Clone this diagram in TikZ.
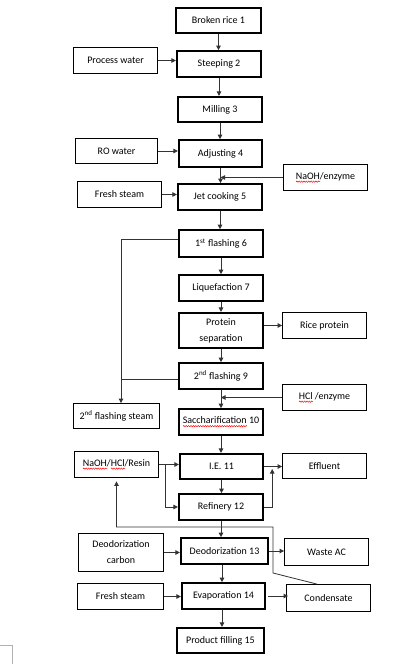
\documentclass[tikz,border=0pt]{standalone}
\usepackage{fontspec}
\setmainfont{Carlito}
\usetikzlibrary{arrows.meta,calc,decorations.pathmorphing}
\newsavebox\wbox
\newcommand\rwave[1]{\sbox\wbox{#1}\rlap{\usebox\wbox}\hbox to\wd\wbox{\raisebox{-2.3pt}{\tikz[x=1pt,y=1pt,baseline=0pt]\draw[red,line width=0.45pt,decorate,decoration={snake,amplitude=0.7pt,segment length=2.4pt}] (0pt,0pt) -- (\the\wd\wbox,0pt);}\hss}}
\begin{document}
\begin{tikzpicture}[x=1pt,y=-1pt,
  every node/.style={font=\fontsize{10}{16}\selectfont, inner sep=0pt, align=center},
  mainbox/.style={draw, line width=2.2pt, minimum width=84pt, minimum height=25.5pt},
  sidebox/.style={draw, line width=0.8pt, minimum width=84pt, minimum height=26pt},
  arr/.style={draw=black!80, line width=0.8pt, -{Triangle[length=4.5pt,width=4.5pt]}},
  ln/.style={draw=black!80, line width=0.8pt}]
\useasboundingbox (0,0) rectangle (409,664);
% main process boxes
\node[mainbox, minimum width=85pt, minimum height=25pt] (b1) at (218.5,20.5) {Broken rice 1};
\node[mainbox] (b2) at (219,64) {Steeping 2};
\node[mainbox, minimum height=25pt] (b3) at (220,109.5) {Milling 3};
\node[mainbox, minimum width=83pt, minimum height=26.5pt] (b4) at (220.5,153.5) {Adjusting 4};
\node[mainbox] (b5) at (220,197) {Jet cooking 5};
\node[mainbox, minimum height=26.5pt] (b6) at (221,243.5) {1\textsuperscript{st} flashing 6};
\node[mainbox] (b7) at (221,288) {Liquefaction 7};
\node[mainbox, minimum height=35pt] (b8) at (221,330.5) {Protein\\separation};
\node[mainbox] (b9) at (221,376) {2\textsuperscript{nd} flashing 9};
\node[mainbox] (b10) at (221,422) {\rwave{Saccharification} 10};
\node[mainbox, minimum width=83pt, minimum height=25pt] (b11) at (221.5,466.5) {I.E. 11};
\node[mainbox] (b12) at (221,507) {Refinery 12};
\node[mainbox, minimum width=87pt] (b13) at (224.5,551) {Deodorization 13};
\node[mainbox, minimum width=83pt] (b14) at (223.5,596) {Evaporation 14};
\node[mainbox, minimum width=87pt, minimum height=25pt] (b15) at (220.5,640.5) {Product filling 15};
% side boxes
\node[sidebox] (pw) at (115.5,60.5) {Process water};
\node[sidebox, minimum width=82pt, minimum height=25pt] (ro) at (116.5,151) {RO water};
\node[sidebox] (naoh) at (325.5,177.5) {\rwave{NaOH}/enzyme};
\node[sidebox] (fs1) at (119.5,194.5) {Fresh steam};
\node[sidebox] (rp) at (324.5,325.5) {Rice protein};
\node[sidebox] (hcl) at (324.5,397.5) {\rwave{HCl} /enzyme};
\node[sidebox, minimum width=86pt, minimum height=25pt] (fst) at (116.5,416) {2\textsuperscript{nd} flashing steam};
\node[sidebox] (res) at (116.5,464.5) {\rwave{NaOH}/\rwave{HCl}/Resin};
\node[sidebox, minimum height=25pt] (eff) at (324.5,466) {Effluent};
\node[sidebox, minimum width=85pt, minimum height=38pt] (dc) at (121,552.5) {Deodorization\\carbon};
\node[sidebox, minimum height=27pt] (wac) at (326.5,552) {Waste AC};
\node[sidebox, minimum width=86pt] (fs2) at (120.5,596.5) {Fresh steam};
\node[sidebox, minimum height=27pt] (cond) at (328.5,598) {Condensate};
% main flow
\draw[arr] (b1.south) -- (b1.south |- b2.north);
\draw[arr] (b2.south) -- (b2.south |- b3.north);
\draw[arr] (b3.south) -- (b3.south |- b4.north);
\draw[arr] (b4.south) -- (b4.south |- b5.north);
\draw[arr] (b5.south) -- (b5.south |- b6.north);
\draw[arr] (b6.south) -- (b6.south |- b7.north);
\draw[arr] (b7.south) -- (b7.south |- b8.north);
\draw[arr] (b8.south) -- (b8.south |- b9.north);
\draw[arr] (b9.south) -- (b9.south |- b10.north);
\draw[arr] (b10.south) -- (b10.south |- b11.north);
\draw[arr] (b11.south) -- (b11.south |- b12.north);
\draw[arr] (b12.south) -- (b12.south |- b13.north);
\draw[arr] ([xshift=-2.5pt]b13.south) -- ([xshift=-2.5pt]b13.south |- b14.north);
\draw[arr] ([xshift=-1.5pt]b14.south) -- ([xshift=-1.5pt]b14.south |- b15.north);
% inputs
\draw[arr] (pw.east) -- (pw.east -| b2.west);
\draw[arr] (ro.east) -- (ro.east -| b4.west);
\draw[arr] (naoh.west) -- (naoh.west -| b4.south);
\draw[arr] (fs1.east) -- (fs1.east -| b5.west);
\draw[arr] (hcl.west) -- (hcl.west -| b9.south);
\draw[arr] (res.east) -- (res.east -| b11.west);
\coordinate (rb) at ($(res.east)+(6,0)$);
\draw[arr] (rb) |- (b12.west);
\draw[arr] (dc.east) -- (dc.east -| b13.west);
\draw[arr] (fs2.east) -- (fs2.east -| b14.west);
% outputs
\draw[arr] (b8.east |- rp.west) -- (rp.west);
\draw[arr] (b11.east) -- (b11.east -| eff.west);
\coordinate (effin) at ($(b11.east)!0.45!(b11.east -| eff.west)$);
\draw[arr] (b12.east) -| ([yshift=-2.5pt]effin);
\draw[arr] (b13.east) -- (b13.east -| wac.west);
\draw[arr] ([xshift=2pt]b14.east) -- ([xshift=2pt]b14.east -| cond.west);
% flashing steam
\coordinate (fl) at ($(fst.north)+(4.5,0)$);
\draw[arr] ([yshift=4pt]b6.west) -| (fl);
\draw[ln] ([yshift=-3pt]b9.west) -- ([yshift=-3pt]b9.west -| fl);
% condensate recycle
\coordinate (c1) at (273,573);
\coordinate (c2) at (273,527);
\draw[arr, shorten >=3.5pt] ([xshift=-11.5pt]cond.north) -- (c1) -- (c2) -- (c2 -| res.south) -- (res.south);
% page corner mark
\draw[black!30, line width=0.6pt] (0,645) -- (12,645) -- (12,664);
\end{tikzpicture}
\end{document}
